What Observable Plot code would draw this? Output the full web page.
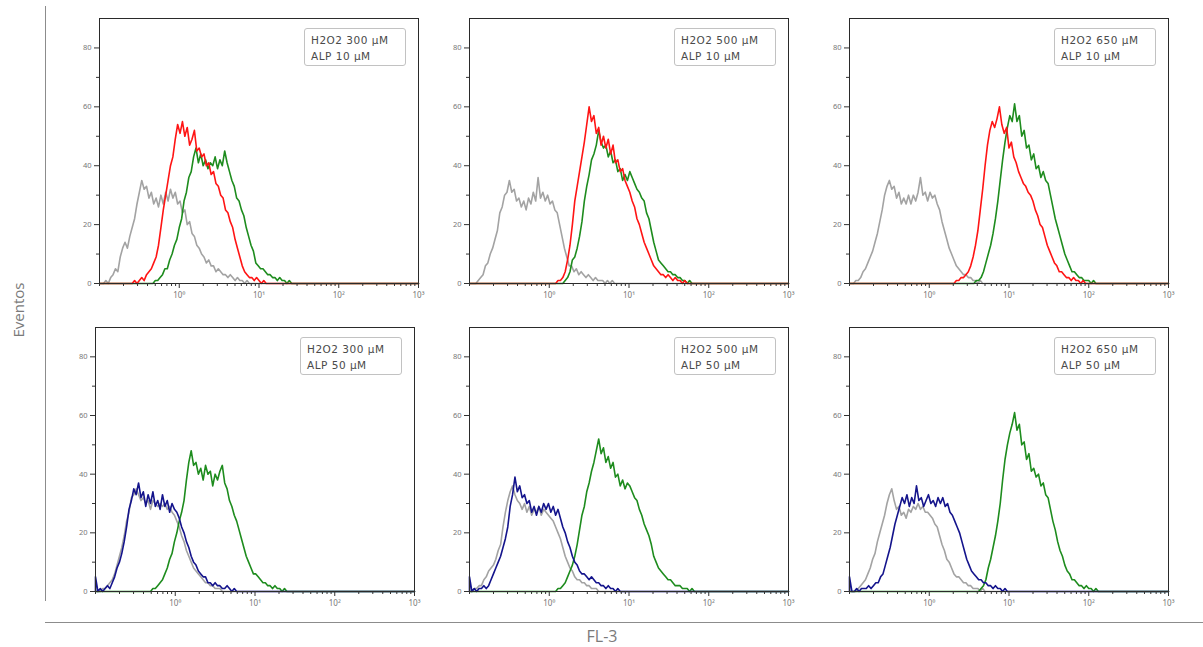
<!DOCTYPE html>
<html>
<head>
<meta charset="utf-8">
<script src="https://cdn.jsdelivr.net/npm/d3@7"></script>
<script src="https://cdn.jsdelivr.net/npm/@observablehq/plot@0.6"></script>
<style>
  body { margin: 0; background: #fff; }
  #fig { position: relative; width: 1203px; height: 647px; overflow: hidden; font-family: "Open Sans", sans-serif; background: #fff; }
  .panel { position: absolute; }
  .legend { position: absolute; border: 1px solid #c2c2c2; border-radius: 3px; background: #fff;
            font: 10.5px "DejaVu Sans", sans-serif; letter-spacing: 0.5px; color: #4a4a4a; line-height: 16px; padding: 3px 0 0 6px; box-sizing: border-box; white-space: nowrap; }
  .vline { position: absolute; left: 45px; top: 6px; width: 0; height: 595px; border-left: 1.5px solid #8c8c8c; }
  .hline { position: absolute; left: 45px; top: 622px; width: 1160px; height: 0; border-top: 1.5px solid #8c8c8c; }
  .ylab { position: absolute; left: 18px; top: 310px; transform: translate(-50%, -50%) rotate(-90deg); font-size: 15px; color: #7a7a7a; white-space: nowrap; }
  .xlab { position: absolute; left: 602px; top: 636px; transform: translate(-50%, -50%); font-size: 16px; color: #7a7a7a; }
</style>
</head>
<body>
<div id="fig"></div>
<script>
// ---------------- data ----------------
const BIN = 0.03;                       // histogram bin width (log10 FL-3 units)
const h2o2Labels = ["H2O2 300 μM", "H2O2 500 μM", "H2O2 650 μM"];
const alpLabels = ["ALP 10 μM", "ALP 50 μM"];
const xTickValues = [1, 10, 100, 1000];
const xTickLabels = ["10⁰", "10¹", "10²", "10³"];
const yTickValues = [0, 20, 40, 60, 80];
const yMinorTicks = [10, 30, 50, 70];
const xDomain = [0.1, 1000];
const yDomain = [0, 90];
const axisTitleY = "Eventos";
const axisTitleX = "FL-3";

// Each histogram: log10 of its first bin, then event counts per bin.
// Row 1 (ALP 10 µM)
const r1c1Control = { start: -0.95, counts: [0,1,0,2,3,5,4,9,12,14,12,16,19,22,27,31,35,32,33,29,31,27,29,26,30,27,31,28,32,29,31,27,28,24,25,20,21,17,16,13,12,10,9,7,8,6,6,4,5,4,3,3,2,3,2,1,2,1,1,0,1,0,0,0] };
const r1c1H2O2 = { start: -0.33, counts: [0,1,1,2,3,5,5,8,10,13,15,19,22,28,31,36,38,43,46,41,44,40,42,39,41,40,43,39,42,40,45,41,38,35,33,29,28,25,23,19,16,13,11,7,6,5,5,4,3,3,2,2,1,2,1,1,0,1,0] };
const r1c1ALP = { start: -0.59, counts: [0,1,0,1,2,1,3,4,5,7,9,13,19,25,30,35,40,43,49,54,51,55,50,53,47,49,52,45,46,43,44,40,41,37,38,34,33,30,29,25,24,21,19,15,12,9,6,4,3,2,2,1,2,1,0,1,0] };

const r1c2Control = { start: -0.95, counts: [0,0,1,2,3,6,7,10,12,15,18,24,26,30,31,35,31,32,28,29,26,28,25,29,27,31,28,36,29,31,28,30,27,28,25,24,20,16,12,9,6,6,4,5,3,4,3,2,3,2,1,2,1,1,1,0,1,0,1,0,0] };
const r1c2H2O2 = { start: 0.17, counts: [0,1,2,4,8,9,12,16,21,28,33,37,42,44,47,52,48,46,47,43,45,41,42,38,39,35,37,35,38,36,34,32,31,29,28,24,22,18,14,11,8,7,6,5,4,4,3,3,2,2,1,1,0,1,0] };
const r1c2ALP = { start: 0.08, counts: [0,1,1,2,4,8,13,20,28,33,38,43,48,54,60,55,57,51,53,47,50,46,49,44,47,41,42,38,39,35,33,31,28,26,22,20,17,14,12,10,8,6,5,4,3,3,2,3,2,1,2,1,1,0,1,0] };

const r1c3Control = { start: -0.95, counts: [0,1,1,2,4,5,7,9,11,14,17,21,25,30,33,35,32,33,29,31,27,29,27,30,27,30,28,31,36,30,31,28,31,29,30,27,25,21,18,15,12,10,8,6,5,4,3,3,2,2,1,1,0,1,0,0] };
const r1c3H2O2 = { start: 0.56, counts: [0,1,1,2,4,7,10,13,17,22,28,35,42,48,53,57,55,61,55,57,50,52,46,47,42,44,39,40,36,38,35,34,30,26,22,19,16,13,10,8,6,4,4,3,2,2,1,1,1,0,1,0] };
const r1c3ALP = { start: 0.31, counts: [0,1,1,2,2,3,4,6,9,13,18,25,32,40,47,52,55,53,56,60,54,51,53,46,48,43,41,38,36,34,33,31,30,28,25,23,20,19,16,13,11,9,7,6,4,4,3,2,2,1,2,1,1,0,1,0] };

// Row 2 (ALP 50 µM)
const r2c1Control = { start: -0.97, counts: [0,0,1,1,2,3,4,6,9,12,15,19,24,27,32,33,35,33,31,32,30,31,28,31,30,29,30,29,30,28,29,27,26,24,22,19,17,14,12,10,8,7,6,5,4,3,3,2,2,1,1,1,0,0] };
const r2c1H2O2 = { start: -0.31, counts: [0,1,1,2,3,4,6,8,11,13,17,20,24,27,31,38,44,48,43,44,40,42,38,43,40,41,36,40,38,41,43,37,35,31,29,26,24,21,18,15,12,10,8,6,6,5,4,3,3,2,2,1,2,1,1,0,1,0] };
const r2c1ALP = { start: -1.0, counts: [5,0,1,0,1,2,1,3,5,8,10,13,17,22,28,31,35,33,37,32,34,29,33,30,34,29,31,28,33,29,31,27,30,28,27,25,22,20,17,15,12,10,9,7,6,5,5,3,3,2,3,2,2,1,1,2,1,0,1,0,0] };

const r2c2Control = { start: -0.97, counts: [0,1,1,2,2,4,5,7,8,9,11,14,16,22,27,31,34,36,33,31,30,28,30,27,29,26,28,27,29,26,28,27,26,25,24,22,20,18,15,12,10,8,7,5,4,4,3,3,2,2,1,1,1,0,0] };
const r2c2H2O2 = { start: 0.05, counts: [0,0,1,1,2,3,5,7,9,12,16,21,26,29,34,37,41,44,48,52,47,49,44,46,42,44,39,40,36,38,35,37,36,34,32,31,28,26,23,21,19,16,12,10,8,7,6,5,4,4,3,2,2,2,1,1,1,0,1,0] };
const r2c2ALP = { start: -1.0, counts: [5,0,1,0,1,1,2,1,2,4,6,8,10,12,15,18,22,29,33,39,34,36,32,33,30,31,27,29,26,29,27,30,28,30,27,29,26,28,25,22,20,17,15,12,10,9,7,6,6,5,4,5,4,3,3,2,2,1,2,1,1,0,1,0,0] };

const r2c3Control = { start: -0.95, counts: [0,0,1,2,3,4,6,8,11,13,17,20,23,26,30,33,35,31,28,29,26,27,25,28,27,29,28,30,28,29,27,27,26,25,23,22,19,16,14,11,10,8,6,5,5,4,3,3,2,2,1,1,1,0,1,0] };
const r2c3H2O2 = { start: 0.62, counts: [0,1,2,4,8,11,15,19,24,30,38,45,50,54,57,61,55,57,50,51,45,47,41,42,39,40,36,37,33,32,28,24,21,17,14,12,9,7,6,4,4,3,2,2,1,2,1,1,0,1,0] };
const r2c3ALP = { start: -1.0, counts: [5,0,0,1,0,1,1,1,2,1,2,3,3,5,6,9,12,15,19,23,26,29,32,30,33,29,32,30,36,31,32,29,31,33,30,31,29,32,30,32,29,30,27,26,24,22,20,17,14,11,9,7,6,5,4,4,3,3,2,2,1,2,1,1,0,1,0,0] };

const panelsData = [
  [ { control: r1c1Control, h2o2: r1c1H2O2, alp: r1c1ALP },
    { control: r1c2Control, h2o2: r1c2H2O2, alp: r1c2ALP },
    { control: r1c3Control, h2o2: r1c3H2O2, alp: r1c3ALP } ],
  [ { control: r2c1Control, h2o2: r2c1H2O2, alp: r2c1ALP },
    { control: r2c2Control, h2o2: r2c2H2O2, alp: r2c2ALP },
    { control: r2c3Control, h2o2: r2c3H2O2, alp: r2c3ALP } ]
];

// ---------------- layout & style ----------------
const frameLeft = [[99, 469, 849], [95, 469, 849]];
const frameTop = [18, 327];
const frameW = 319;
const frameH = [265, 264];
const M = { left: 30, right: 8, top: 4, bottom: 22 };
const colors = { control: "#a3a3a3", h2o2: "#1e8c1e", alpRow: ["#ff1414", "#14148c"] };

function toPoints(h) {
  const pts = [{ x: xDomain[0], y: 0 }];
  h.counts.forEach((c, i) => pts.push({ x: Math.pow(10, h.start + i * BIN), y: c }));
  pts.push({ x: xDomain[1], y: 0 });
  return pts;
}

const minorX = d3.scaleLog().domain(xDomain).ticks().filter(v => !xTickValues.includes(v));
const fig = document.getElementById("fig");

for (let r = 0; r < 2; r++) {
  for (let c = 0; c < 3; c++) {
    const d = panelsData[r][c];
    const sw = 1.6;
    const plot = Plot.plot({
      width: M.left + frameW + M.right,
      height: M.top + frameH[r] + M.bottom,
      marginLeft: M.left, marginRight: M.right, marginTop: M.top, marginBottom: M.bottom,
      x: { type: "log", domain: xDomain },
      y: { domain: yDomain },
      style: { background: "transparent", overflow: "visible" },
      marks: [
        Plot.line(toPoints(d.control), { x: "x", y: "y", stroke: colors.control, strokeWidth: sw }),
        Plot.line(toPoints(d.h2o2), { x: "x", y: "y", stroke: colors.h2o2, strokeWidth: sw }),
        Plot.line(toPoints(d.alp), { x: "x", y: "y", stroke: colors.alpRow[r], strokeWidth: sw }),
        Plot.frame({ stroke: "#2a2a2a", strokeWidth: 1 }),
        Plot.axisX(minorX, { tickSize: 3, tickFormat: () => "", label: null, stroke: "#333" }),
        Plot.axisX(xTickValues, { tickSize: 5, tickPadding: 4, label: null, stroke: "#333",
          tickFormat: v => xTickLabels[xTickValues.indexOf(v)], fontSize: 8, fill: "#777" }),
        Plot.axisY(yMinorTicks, { tickSize: 3, tickFormat: () => "", label: null, stroke: "#333" }),
        Plot.axisY(yTickValues, { tickSize: 5, tickPadding: 3, label: null, stroke: "#333",
          fontSize: 7.5, fill: "#777" })
      ]
    });
    plot.classList.add("panel");
    plot.style.left = (frameLeft[r][c] - M.left) + "px";
    plot.style.top = (frameTop[r] - M.top) + "px";
    fig.appendChild(plot);

    const lg = document.createElement("div");
    lg.className = "legend";
    lg.style.left = (frameLeft[r][c] + frameW - 12 - 102) + "px";
    lg.style.top = (frameTop[r] + 10) + "px";
    lg.style.width = "102px";
    lg.style.height = "38px";
    [h2o2Labels[c], alpLabels[r]].forEach(t => {
      const s = document.createElement("div");
      s.textContent = t;
      lg.appendChild(s);
    });
    fig.appendChild(lg);
  }
}

const vl = document.createElement("div"); vl.className = "vline"; fig.appendChild(vl);
const hl = document.createElement("div"); hl.className = "hline"; fig.appendChild(hl);
const yl = document.createElement("div"); yl.className = "ylab"; yl.textContent = axisTitleY; fig.appendChild(yl);
const xl = document.createElement("div"); xl.className = "xlab"; xl.textContent = axisTitleX; fig.appendChild(xl);
</script>
</body>
</html>
